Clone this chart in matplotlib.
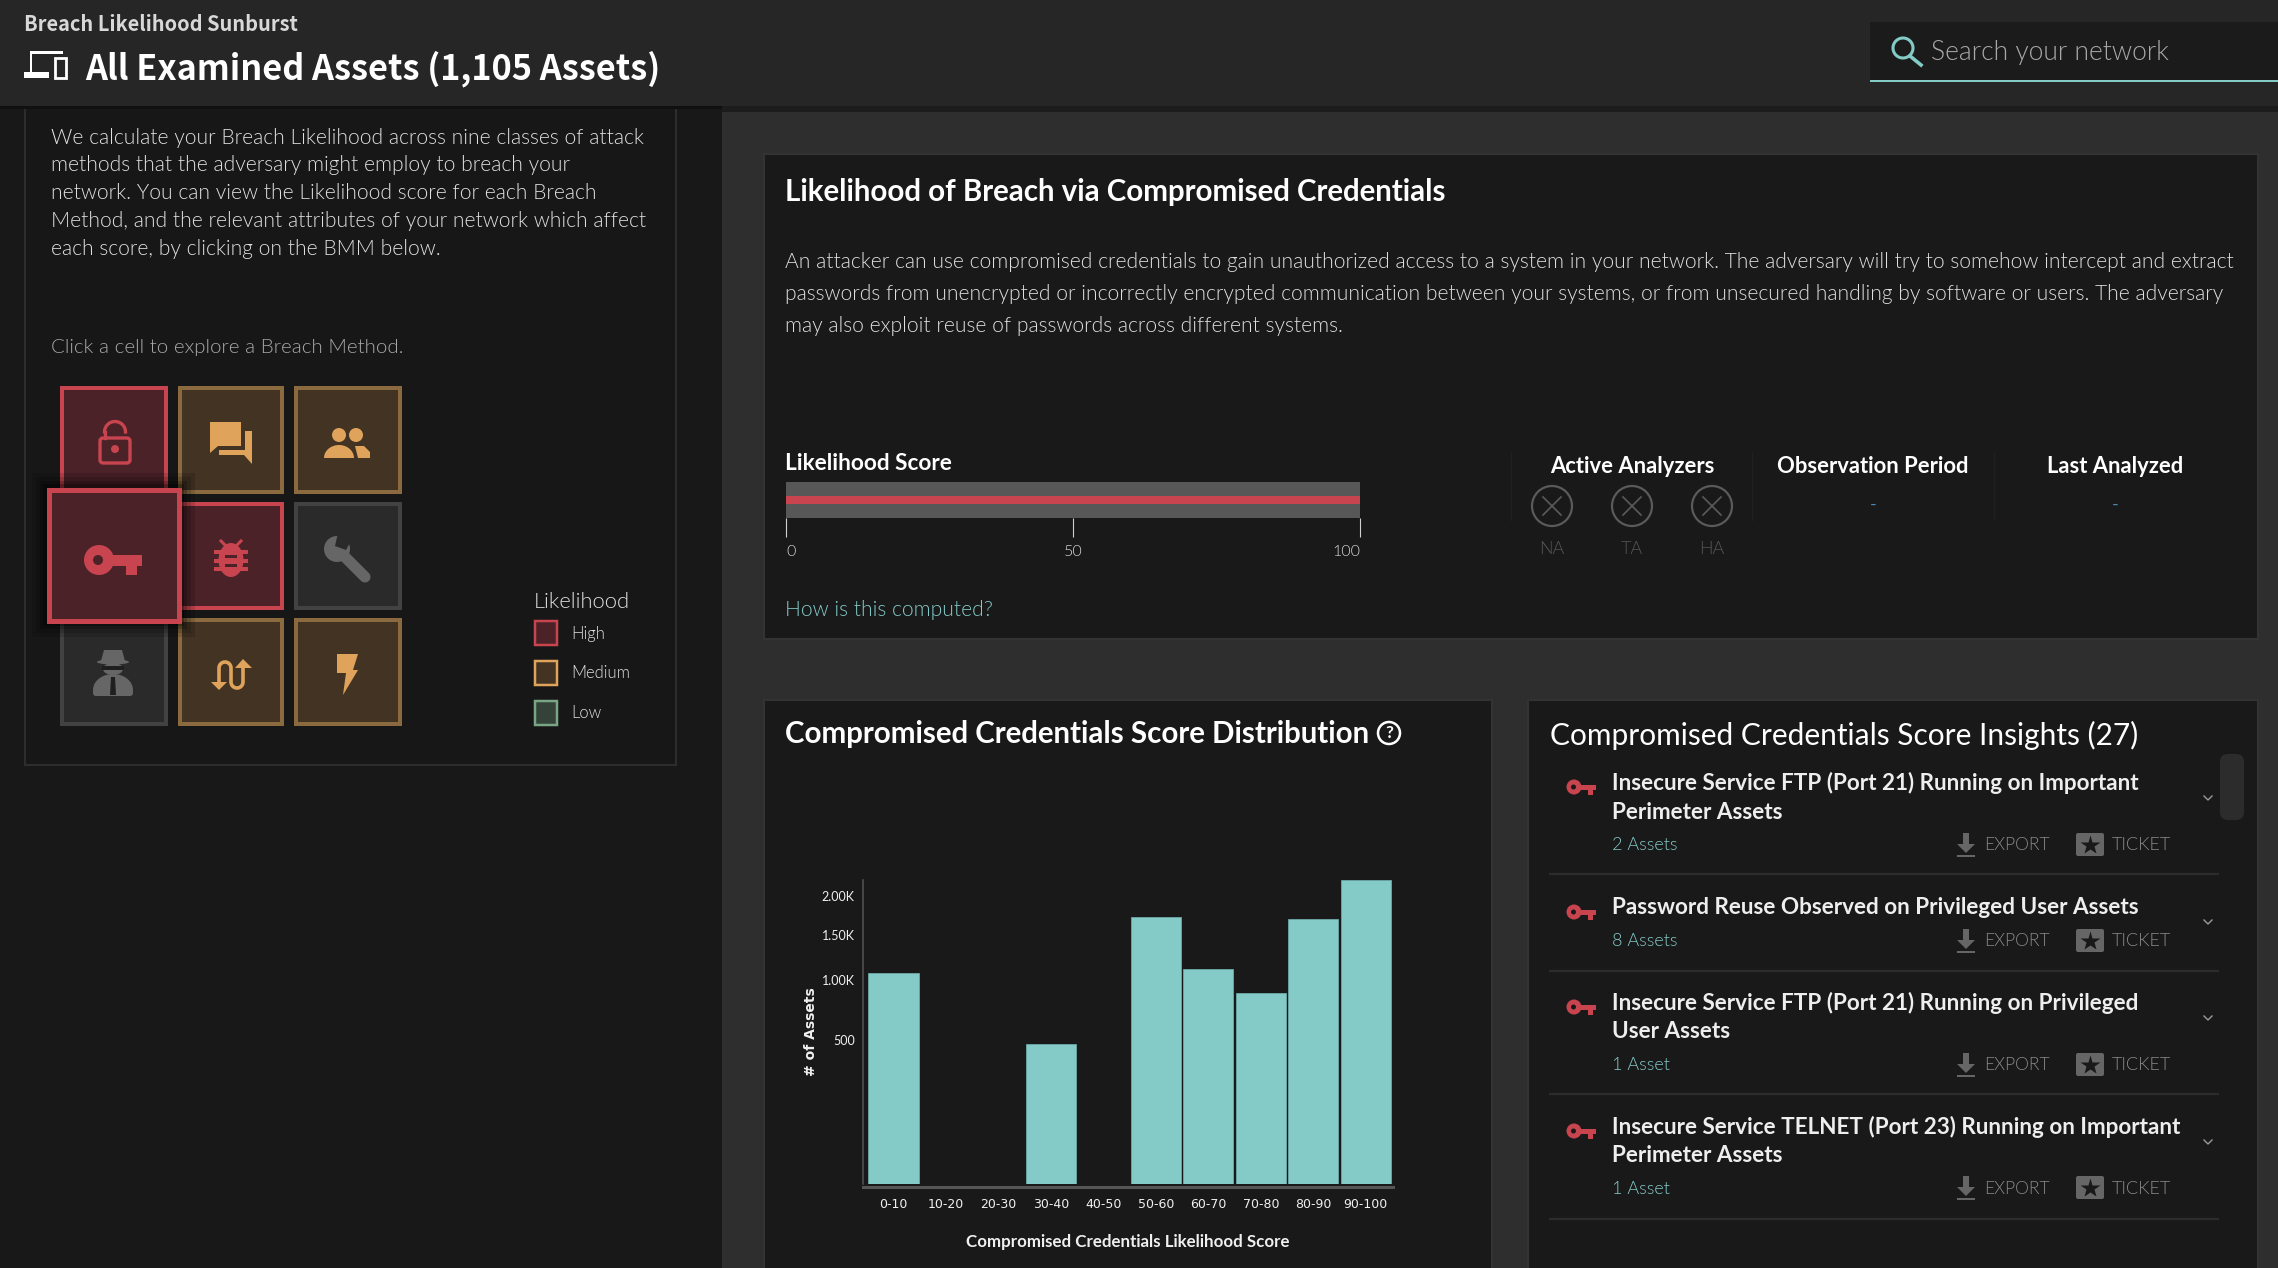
import matplotlib
matplotlib.use('Agg')
import matplotlib.pyplot as plt
from matplotlib.patches import Rectangle, Circle, Polygon, FancyBboxPatch, Ellipse
import numpy as np

W, H = 2278, 1268

# chart data
score_bins = ['0-10', '10-20', '20-30', '30-40', '40-50', '50-60', '60-70', '70-80', '80-90', '90-100']
asset_counts = [1073, 0, 0, 470, 0, 1715, 1115, 877, 1690, 2228]
y_ticks = [500, 1000, 1500, 2000]
y_tick_labels = ['500', '1.00K', '1.50K', '2.00K']
likelihood_score = 100
score_ticks = [0, 50, 100]

intro_lines = [
    'We calculate your Breach Likelihood across nine classes of attack',
    'methods that the adversary might employ to breach your',
    'network. You can view the Likelihood score for each Breach',
    'Method, and the relevant attributes of your network which affect',
    'each score, by clicking on the BMM below.',
]
desc_lines = [
    'An attacker can use compromised credentials to gain unauthorized access to a system in your network. The adversary will try to somehow intercept and extract',
    'passwords from unencrypted or incorrectly encrypted communication between your systems, or from unsecured handling by software or users. The adversary',
    'may also exploit reuse of passwords across different systems.',
]
insight_titles = [
    ['Insecure Service FTP (Port 21) Running on Important', 'Perimeter Assets'],
    ['Password Reuse Observed on Privileged User Assets'],
    ['Insecure Service FTP (Port 21) Running on Privileged', 'User Assets'],
    ['Insecure Service TELNET (Port 23) Running on Important', 'Perimeter Assets'],
]
insight_assets = ['2 Assets', '8 Assets', '1 Asset', '1 Asset']

# colours
RED, RED_BG = '#c8444f', '#4a2228'
ORANGE, ORANGE_EDGE, ORANGE_BG = '#e0a35c', '#8a6a3e', '#423323'
GREY, GREY_EDGE, GREY_BG = '#666666', '#424242', '#2a2a2a'
TEAL = '#84cbc8'
PANEL = '#191919'
SANS = 'Lato'
LIGHT = 300  # Lato Light, the word 'light' picks the hairline cut
HEAD = 'Noto Sans CJK SC'

fig = plt.figure(figsize=(W / 100, H / 100), dpi=100, facecolor='#2e2e2e')
ui = fig.add_axes([0, 0, 1, 1])
ui.set_xlim(0, W)
ui.set_ylim(H, 0)
ui.axis('off')


def txt(x, y, s, px, color='white', weight='normal', ha='left', family=SANS, **kw):
    ui.text(x, y + 1.5, s, fontsize=px * 0.72, color=color, weight=weight, ha=ha, va='center',
            family=family, **kw)


def box(x0, y0, x1, y1, fc, ec='none', lw=0, z=1):
    ui.add_patch(Rectangle((x0, y0), x1 - x0, y1 - y0, fc=fc, ec=ec, lw=lw, zorder=z))


def poly(pts, color, z=5):
    ui.add_patch(Polygon(pts, closed=True, fc=color, ec='none', zorder=z))


def dome(cx, base, rx, ry, color, z=5):
    t = np.linspace(0, np.pi, 30)
    poly(np.column_stack([cx + rx * np.cos(t), base - ry * np.sin(t)]), color, z)


def key_icon(cx, cy, s, color, bg, z=5):
    # drawn around the middle of the key, s=1 is the enlarged cell
    ui.add_patch(Circle((cx - 14 * s, cy), 15 * s, fc=color, ec='none', zorder=z))
    ui.add_patch(Circle((cx - 15 * s, cy), 5 * s, fc=bg, ec='none', zorder=z + 1))
    box(cx - 6 * s, cy - 5 * s, cx + 29 * s, cy + 6 * s, color, z=z)
    box(cx + 13 * s, cy, cx + 24 * s, cy + 15 * s, color, z=z)


def cell(x0, y0, x1, y1, fc, ec, lw=4.0, z=2):
    ui.add_patch(Rectangle((x0 + lw / 2, y0 + lw / 2), x1 - x0 - lw, y1 - y0 - lw, fc=fc, ec=ec,
                           lw=lw * 0.72, zorder=z))


# page backgrounds
box(0, 0, 722, H, '#181818')
box(722, 100, W, 112, '#1c1c1c')
box(25, 100, 676, 765, '#171717', '#2d2d2d', 1.5)
box(764, 154, 2258, 639, PANEL, '#333333', 1.5)
box(764, 700, 1492, H + 5, PANEL, '#333333', 1.5)
box(1528, 700, 2258, H + 5, PANEL, '#333333', 1.5)

# header
box(0, 0, W, 106, '#262626', z=8)
box(0, 106, 722, 109, '#101010', z=8)
txt(24, 23, 'Breach Likelihood Sunburst', 20, '#d8d8d8', 'bold', family=HEAD, zorder=9)
txt(85, 67, 'All Examined Assets (1,105 Assets)', 34.3, 'white', 'bold', family=HEAD, zorder=9)
box(30, 51, 63, 53.5, 'white', z=9)
box(29.5, 51, 32, 73, 'white', z=9)
box(24, 72, 49, 78, 'white', z=9)
ui.add_patch(Rectangle((54.5, 57.5), 11.5, 20, fc='#262626', ec='white', lw=2, zorder=9))
box(1870, 22, W, 81, '#1b1b1b', z=9)
box(1870, 80, W, 82, TEAL, z=9)
ui.add_patch(Circle((1903, 48), 10, fc='none', ec=TEAL, lw=2.2, zorder=10))
ui.plot([1910, 1921], [56, 65], color=TEAL, lw=2.6, zorder=10)
txt(1931, 51, 'Search your network', 26.5, '#a8a8a8', LIGHT, zorder=10)

# left panel text
for i, line in enumerate(intro_lines):
    txt(51, 136 + i * 27.8, line, 21, '#e0e0e0', LIGHT)
txt(51, 346, 'Click a cell to explore a Breach Method.', 20.5, '#a8a8a8', LIGHT)

# breach method matrix
cell(60, 386, 168, 494, RED_BG, RED)
cell(178, 386, 284, 494, ORANGE_BG, ORANGE_EDGE)
cell(294, 386, 402, 494, ORANGE_BG, ORANGE_EDGE)
cell(178, 502, 284, 610, RED_BG, RED)
cell(294, 502, 402, 610, GREY_BG, GREY_EDGE)
cell(60, 618, 168, 726, GREY_BG, GREY_EDGE)
cell(178, 618, 284, 726, ORANGE_BG, ORANGE_EDGE)
cell(294, 618, 402, 726, ORANGE_BG, ORANGE_EDGE)

# lock
ui.add_patch(FancyBboxPatch((100, 438), 30, 25, boxstyle='round,pad=0,rounding_size=3', fc='none',
                            ec=RED, lw=2.4, zorder=5))
ui.add_patch(Circle((115, 449), 4, fc=RED, ec='none', zorder=5))
t = np.linspace(0, np.pi, 30)
ui.plot(np.r_[115 + 10.5 * np.cos(t)], np.r_[432 - 10.5 * np.sin(t)], color=RED, lw=2.4, zorder=5)
ui.plot([104.5, 104.5], [432, 438], color=RED, lw=2.4, zorder=5)

# chat bubbles
poly([(210, 422), (241, 422), (241, 446), (218, 446), (210, 453)], ORANGE)
poly([(245, 431), (252, 431), (252, 464), (244, 455), (219, 455), (219, 450), (245, 450)], ORANGE)

# people
ui.add_patch(Circle((339, 435), 7, fc=ORANGE, ec='none', zorder=5))
ui.add_patch(Circle((356, 435), 7, fc=ORANGE, ec='none', zorder=5))
dome(339, 458, 15, 13, ORANGE)
poly([(355, 446), (364, 446), (370, 452), (370, 458), (358, 458)], ORANGE)

# bug
ui.add_patch(Ellipse((231, 560), 25, 34, fc=RED, ec='none', zorder=5))
for ly in [552, 561, 569]:
    box(214, ly - 2, 248, ly + 2, RED, z=5)
for ly in [556, 565]:
    box(225, ly - 1.5, 237, ly + 1.5, RED_BG, z=6)
ui.plot([221, 227], [541, 547], color=RED, lw=2.2, zorder=5)
ui.plot([241, 235], [541, 547], color=RED, lw=2.2, zorder=5)

# wrench
ui.add_patch(Circle((337, 549), 13, fc=GREY, ec='none', zorder=5))
poly([(335, 546), (338, 533), (353, 537), (346, 550)], GREY_BG, z=6)
ui.plot([341, 365], [553, 577], color=GREY, lw=8, solid_capstyle='round', zorder=5)

# spy
poly([(104, 650), (122, 650), (125, 661), (101, 661)], GREY)
ui.add_patch(Ellipse((113, 662), 32, 5, fc=GREY, ec='none', zorder=5))
ui.add_patch(Ellipse((113, 669), 20, 12, fc=GREY, ec='none', zorder=5))
box(102, 666, 124, 670, '#1f1f1f', z=6)
dome(113, 690, 20, 16, GREY)
ui.add_patch(FancyBboxPatch((93, 688), 40, 8, boxstyle='round,pad=0,rounding_size=3', fc=GREY, ec='none', zorder=5))
poly([(111, 677), (115, 677), (116, 695), (110, 695)], '#1f1f1f', z=6)

# arrows
t = np.linspace(np.pi, 0, 20)
arc1_x, arc1_y = 225 + 6 * np.cos(t), 668 - 6 * np.sin(t)
arc2_x, arc2_y = 237 + 6 * np.cos(t), 682 + 6 * np.sin(t)
ui.plot(np.r_[219, arc1_x, arc2_x, 243], np.r_[684, arc1_y, arc2_y, 666], color=ORANGE, lw=2.6, zorder=5)
poly([(211, 682), (227, 682), (219, 690)], ORANGE)
poly([(235, 668), (252, 668), (243, 659)], ORANGE)

# lightning
poly([(337, 654), (358, 654), (353, 670), (358, 670), (343, 695), (346, 673), (337, 673)], ORANGE)

# enlarged selected cell, with a soft shadow under it
for grow, alpha in [(14, 0.12), (10, 0.15), (6, 0.2), (3, 0.25)]:
    ui.add_patch(Rectangle((46 - grow, 487 - grow), 135 + 2 * grow, 136 + 2 * grow, fc='black', ec='none',
                           alpha=alpha, zorder=7))
cell(46, 487, 181, 623, RED_BG, RED, lw=5, z=7)
key_icon(113, 560, 1.0, RED, RED_BG, z=8)

# matrix legend
txt(534, 600, 'Likelihood', 22, '#e0e0e0', LIGHT)
cell(534, 620, 558, 646, RED_BG, RED, lw=2.5)
cell(534, 660, 558, 686, ORANGE_BG, ORANGE, lw=2.5)
cell(534, 700, 558, 726, '#34423a', '#7aa584', lw=2.5)
txt(571, 632, 'High', 16.5, '#e0e0e0', LIGHT)
txt(571, 672, 'Medium', 16.5, '#e0e0e0', LIGHT)
txt(571, 712, 'Low', 16.5, '#e0e0e0', LIGHT)

# top panel
txt(785, 190, 'Likelihood of Breach via Compromised Credentials', 29.5, 'white', 'bold')
for i, line in enumerate(desc_lines):
    txt(785, 260 + i * 32, line, 21, '#e0e0e0', LIGHT)
txt(785, 462, 'Likelihood Score', 22.6, 'white', 'bold')
txt(785, 608, 'How is this computed?', 21, TEAL, LIGHT)
txt(1632, 465, 'Active Analyzers', 22, 'white', 'bold', ha='center')
txt(1873, 465, 'Observation Period', 22, 'white', 'bold', ha='center')
txt(2115, 465, 'Last Analyzed', 22, 'white', 'bold', ha='center')
txt(1873, 503, '-', 18, '#4a86b0', ha='center')
txt(2115, 503, '-', 18, '#4a86b0', ha='center')
for x in [1511, 1752, 1994]:
    ui.plot([x, x], [452, 520], color='#202020', lw=1)
for x, name in zip([1552, 1632, 1712], ['NA', 'TA', 'HA']):
    ui.add_patch(Circle((x, 506), 20, fc='none', ec='#5a5a5a', lw=1.6))
    ui.plot([x - 9, x + 9], [497, 515], color='#5a5a5a', lw=1.2)
    ui.plot([x - 9, x + 9], [515, 497], color='#5a5a5a', lw=1.2)
    txt(x, 547, name, 18, '#555555', LIGHT, ha='center')

# likelihood score bar
score_ax = fig.add_axes([786 / W, 1 - 518 / H, 574 / W, 36 / H], facecolor='#575757')
score_ax.barh([0], [likelihood_score], height=0.22, color=RED)
score_ax.set_xlim(0, 100)
score_ax.set_ylim(-0.5, 0.5)
score_ax.set_yticks([])
score_ax.set_xticks(score_ticks)
score_ax.tick_params(axis='x', length=13.5, width=0.8, color='#d0d0d0', labelcolor='#d8d8d8', labelsize=11.5, pad=6)
for lab, align in zip(score_ax.get_xticklabels(), ['left', 'center', 'right']):
    lab.set_family('Lato')
    lab.set_weight(LIGHT)
    lab.set_horizontalalignment(align)
for sp in score_ax.spines.values():
    sp.set_visible(False)

# distribution panel
txt(785, 733, 'Compromised Credentials Score Distribution', 29.5, 'white', 'bold')
ui.add_patch(Circle((1389, 733), 11, fc='none', ec='white', lw=1.8))
txt(1389, 731, '?', 17, 'white', 'bold', ha='center')

ax = fig.add_axes([863 / W, 1 - 1184 / H, 530 / W, 304 / H], facecolor='none')
ax.bar(range(len(score_bins)), asset_counts, width=0.96, color=TEAL, edgecolor='#6ba8a6', linewidth=0.6)
ax.set_yscale('function', functions=(np.sqrt, lambda v: np.power(v, 2)))
ax.set_xlim(-0.58, 9.52)
ax.set_ylim(0, 2228)
ax.set_xticks(range(len(score_bins)))
ax.set_xticklabels(score_bins, family='Lato')
ax.set_yticks(y_ticks)
ax.set_yticklabels(y_tick_labels, family='Lato')
ax.minorticks_off()
ax.tick_params(axis='both', length=0, labelsize=9, labelcolor='#f0f0f0')
ax.tick_params(axis='y', pad=6)
ax.tick_params(axis='x', pad=8)
ax.spines['top'].set_visible(False)
ax.spines['right'].set_visible(False)
ax.spines['left'].set_color('#555555')
ax.spines['left'].set_linewidth(1.1)
ax.spines['bottom'].set_color('#555555')
ax.spines['bottom'].set_linewidth(2.2)
ax.spines['bottom'].set_position(('outward', 2))
ax.set_xlabel('Compromised Credentials Likelihood Score', family='Lato', fontsize=12.2, weight='bold', color='#f0f0f0')
ax.xaxis.set_label_coords(0.5, -0.165)
ax.set_ylabel('# of Assets', fontsize=10, weight='bold', color='#f0f0f0')
ax.yaxis.set_label_coords(-0.084, 0.5)

# insights panel
txt(1550, 734, 'Compromised Credentials Score Insights (27)', 29.9, 'white', 'normal')
ui.add_patch(FancyBboxPatch((2220, 754), 24, 66, boxstyle='round,pad=0,rounding_size=8', fc='#2c2c2c', ec='none', zorder=2))

insight_title_y = [[781, 811], [906], [1001, 1030], [1125, 1154]]
insight_sub_y = [844, 940, 1064, 1187]
insight_line_y = [874, 971, 1094, 1219]
insight_chev_y = [798, 922, 1018, 1142]
for titles, t_ys, name, sub_y, line_y, chev_y in zip(insight_titles, insight_title_y, insight_assets,
                                                     insight_sub_y, insight_line_y, insight_chev_y):
    for s, y in zip(titles, t_ys):
        txt(1612, y, s, 22.5, '#eeeeee', 'bold')
    key_icon(1581, t_ys[0] + 6, 0.5, RED, PANEL)
    txt(1612, sub_y, name, 18, TEAL, LIGHT)
    ui.plot([1550, 2218], [line_y, line_y], color='#2c2c2c', lw=1.6)
    ui.plot([2204, 2208, 2212], [chev_y - 2, chev_y + 2, chev_y - 2], color='#9a9a9a', lw=1)
    # export button
    box(1963, sub_y - 11, 1969, sub_y + 1, '#666666')
    poly([(1957, sub_y), (1975, sub_y), (1966, sub_y + 9)], '#666666')
    box(1957, sub_y + 11, 1975, sub_y + 13, '#666666')
    txt(1984, sub_y, 'EXPORT', 17.5, '#8a8a8a', LIGHT)
    # ticket button
    ui.add_patch(FancyBboxPatch((2076, sub_y - 11), 28, 23, boxstyle='round,pad=0,rounding_size=2', fc='#666666',
                                ec='none', zorder=3))
    ui.plot([2090], [sub_y + 0.5], marker='*', ms=15, color=PANEL, mec='none', zorder=4)
    txt(2112, sub_y, 'TICKET', 18, '#8a8a8a', LIGHT)

ui.set_xlim(0, W)
ui.set_ylim(H, 0)
fig.savefig('out.png', dpi=100, facecolor=fig.get_facecolor())
